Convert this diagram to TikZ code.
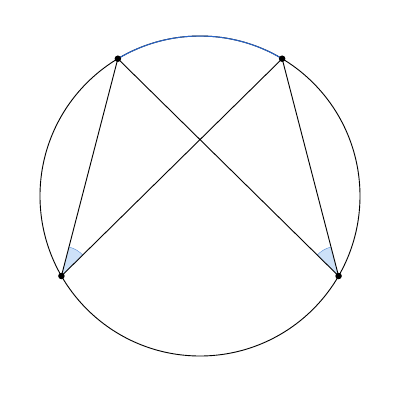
\documentclass[tikz,border=0pt]{standalone}
\usetikzlibrary{angles}
\definecolor{wedge}{RGB}{205,225,248}
\definecolor{wedgeline}{RGB}{90,140,210}
\definecolor{arcblue}{RGB}{40,100,200}
\begin{document}
\begin{tikzpicture}[x=1pt,y=1pt,
  dot/.style={circle,fill=black,inner sep=0pt,minimum size=6.5pt},
  ang/.style={fill=wedge,draw=wedgeline,line width=0.4pt,angle radius=30pt}]
\useasboundingbox (-200,-204) rectangle (200,196);
\draw[line width=0.9pt] (0,0) circle (160);
\coordinate (A) at (120.9:160);
\coordinate (B) at (59.1:160);
\coordinate (C) at (210:160);
\coordinate (D) at (-30:160);
\pic[ang]{angle=B--C--A};
\pic[ang]{angle=B--D--A};
\draw[line width=1pt,color=arcblue] (B) arc (59.1:120.9:160);
\draw[line width=0.9pt] (A)--(C) (A)--(D) (B)--(C) (B)--(D);
\node[dot] (a) at (A) {};
\node[dot] (b) at (B) {};
\node[dot] (c) at (C) {};
\node[dot] (d) at (D) {};
\end{tikzpicture}
\end{document}
